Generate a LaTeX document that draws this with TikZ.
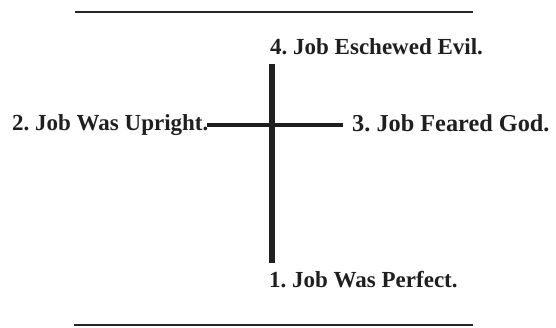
\documentclass[tikz,border=0pt]{standalone}
\usepackage{fontspec}
\setmainfont{Liberation Serif}
\frenchspacing
\begin{document}
\begin{tikzpicture}[x=1pt,y=-1pt,
  lbl/.style={anchor=base west,inner sep=0pt,font=\frenchspacing\bfseries\fontsize{23}{27}\selectfont,text=black!88},
  biglbl/.style={lbl,font=\frenchspacing\bfseries\fontsize{24.3}{28}\selectfont},
  rule/.style={line width=2.5pt,draw=black!85},
  bar/.style={draw=black!88}]
\useasboundingbox (0,0) rectangle (556,327);
% rules
\coordinate (r1a) at (75,12);
\coordinate (r1b) at (473,12);
\coordinate (r2a) at (74,325);
\coordinate (r2b) at (473,325);
\draw[rule] (r1a) -- (r1b);
\draw[rule] (r2a) -- (r2b);
% labels
\node[lbl] (t4) at (270,54) {4. Job Eschewed Evil.};
\node[lbl] (t2) at (12,130.5) {2. Job Was Upright.};
\node[biglbl] (t3) at (352,131) {3. Job Feared God.};
\node[lbl] (t1) at (269,287) {1. Job Was Perfect.};
% cross
\coordinate (vt) at (272,64);
\coordinate (vb) at (272,263);
\coordinate (hl) at (207,124.5);
\coordinate (hr) at (343,124.5);
\draw[bar,line width=4pt] (hl) -- (hr);
\draw[bar,line width=6pt] (vt) -- (vb);
\end{tikzpicture}
\end{document}
